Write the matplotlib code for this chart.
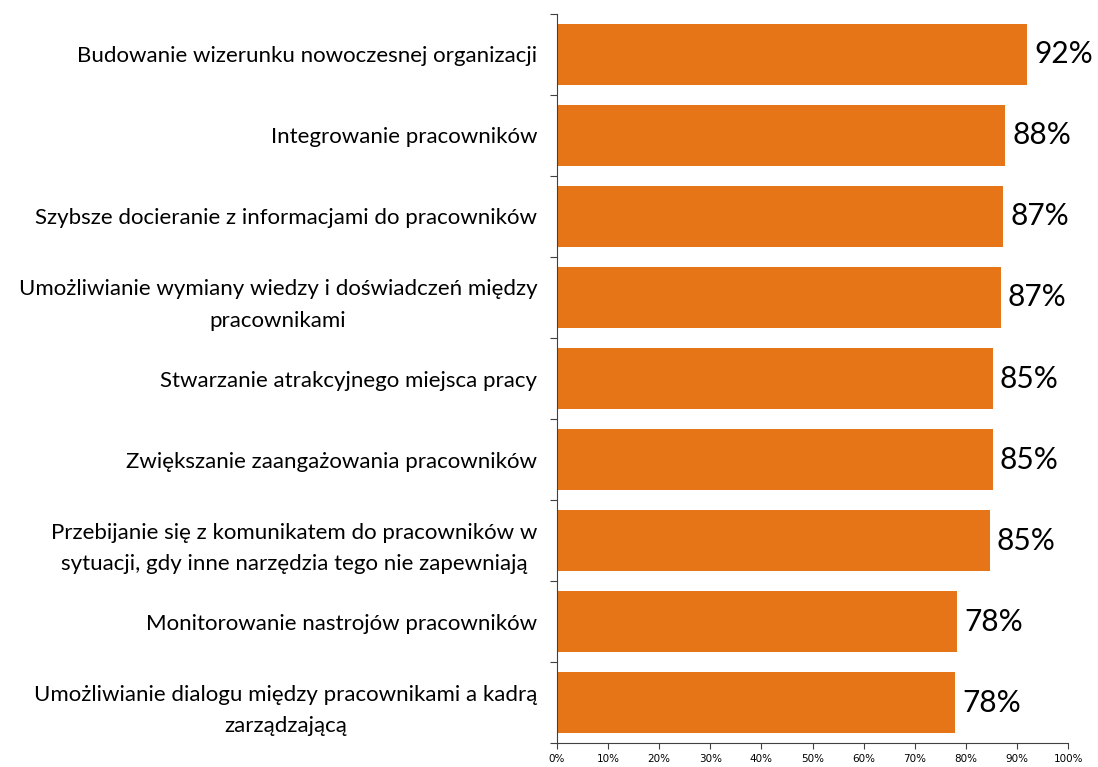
import matplotlib
matplotlib.use("Agg")
import matplotlib.pyplot as plt
import numpy as np
from matplotlib.ticker import MultipleLocator, FixedLocator, PercentFormatter

categories = [
    "Budowanie wizerunku nowoczesnej organizacji",
    "Integrowanie pracowników",
    "Szybsze docieranie z informacjami do pracowników",
    "Umożliwianie wymiany wiedzy i doświadczeń między\npracownikami",
    "Stwarzanie atrakcyjnego miejsca pracy",
    "Zwiększanie zaangażowania pracowników",
    "Przebijanie się z komunikatem do pracowników w\nsytuacji, gdy inne narzędzia tego nie zapewniają",
    "Monitorowanie nastrojów pracowników",
    "Umożliwianie dialogu między pracownikami a kadrą\nzarządzającą",
]
values = [92.0, 87.7, 87.3, 86.9, 85.3, 85.3, 84.7, 78.3, 77.9]
value_labels = ["92%", "88%", "87%", "87%", "85%", "85%", "85%", "78%", "78%"]

BAR = "#E57517"

fig = plt.figure(figsize=(10.98, 7.67), dpi=100)
ax = fig.add_axes([0.507, 0.031, 0.466, 0.951])

y = np.arange(len(categories))
ax.barh(y, values, height=0.75, color=BAR, zorder=2)
ax.set_xlim(0, 100)
ax.set_ylim(len(categories) - 0.5, -0.5)

for yi, v, lab in zip(y, values, value_labels):
    ax.text(v + 1.3, yi, lab, va="center", ha="left", fontsize=21.5,
            family="Lato", color="black")

ax.set_yticks(y)
ax.set_yticklabels(categories, fontsize=16, family="Lato",
                   ha="right", multialignment="center", linespacing=1.7)
ax.tick_params(axis="y", length=0, pad=14)
ax.yaxis.set_minor_locator(FixedLocator(np.arange(-0.5, len(categories), 1)))
ax.tick_params(axis="y", which="minor", length=5, width=0.8, color="#404040")

ax.xaxis.set_major_locator(MultipleLocator(10))
ax.xaxis.set_major_formatter(PercentFormatter(decimals=0))
ax.tick_params(axis="x", labelsize=7.5, length=4, width=0.8, color="#404040",
               pad=4)
for t in ax.get_xticklabels():
    t.set_family("DejaVu Sans")

for s in ["top", "right"]:
    ax.spines[s].set_visible(False)
for s in ["left", "bottom"]:
    ax.spines[s].set_color("#404040")
    ax.spines[s].set_linewidth(0.8)

fig.savefig("out.png", dpi=100)
